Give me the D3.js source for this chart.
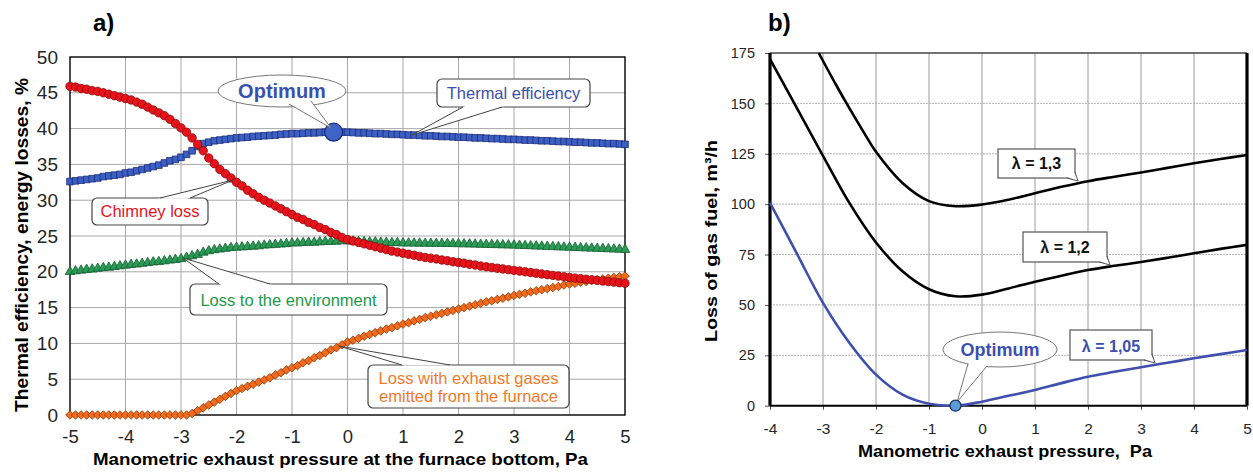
<!DOCTYPE html>
<html>
<head>
<meta charset="utf-8">
<script src="https://cdn.jsdelivr.net/npm/d3@7"></script>
<style>
  body { margin: 0; background: #fff; }
  svg { display: block; font-family: "Liberation Sans", Arial, sans-serif; }
  .tick text { fill: #262626; }
  .axis path.domain { display: none; }
</style>
</head>
<body>
<div id="chart"></div>
<script>
// ---------- chart a) : pressure at the furnace bottom, Pa (step 0.1) ----------
const pressureA = d3.range(-50, 51).map(i => i / 10);

const thermalEff = [
    32.6, 32.7, 32.8, 32.9, 33.0, 33.1, 33.3, 33.4, 33.5, 33.6,
    33.8, 33.9, 34.1, 34.3, 34.5, 34.7, 34.9, 35.2, 35.5, 35.7,
    36.0, 36.4, 36.9, 37.5, 37.9, 38.1, 38.3, 38.4, 38.5, 38.6,
    38.7, 38.75, 38.8, 38.9, 38.95, 39.0, 39.05, 39.1, 39.2, 39.25,
    39.3, 39.3, 39.35, 39.4, 39.4, 39.45, 39.5, 39.5, 39.5, 39.5,
    39.5, 39.45, 39.4, 39.4, 39.35, 39.3, 39.3, 39.25, 39.2, 39.2,
    39.15, 39.1, 39.1, 39.05, 39.0, 39.0, 38.95, 38.9, 38.9, 38.85,
    38.8, 38.8, 38.75, 38.7, 38.7, 38.65, 38.6, 38.6, 38.55, 38.5,
    38.5, 38.45, 38.4, 38.4, 38.35, 38.3, 38.3, 38.25, 38.2, 38.2,
    38.15, 38.1, 38.1, 38.05, 38.0, 38.0, 37.95, 37.9, 37.9, 37.85, 37.8
];

const chimneyLoss = [
    45.9, 45.8, 45.6, 45.5, 45.3, 45.2, 45.0, 44.8, 44.6, 44.4,
    44.2, 44.0, 43.7, 43.4, 43.0, 42.6, 42.2, 41.8, 41.3, 40.7,
    40.1, 39.5, 38.7, 37.8, 36.9, 35.9, 35.1, 34.3, 33.7, 33.1,
    32.5, 32.0, 31.4, 30.9, 30.4, 30.0, 29.6, 29.2, 28.8, 28.4,
    28.0, 27.6, 27.3, 26.9, 26.6, 26.2, 25.9, 25.5, 25.2, 24.8,
    24.5, 24.3, 24.1, 23.9, 23.7, 23.5, 23.3, 23.1, 22.9, 22.75,
    22.6, 22.45, 22.3, 22.15, 22.0, 21.9, 21.8, 21.65, 21.55, 21.4,
    21.3, 21.2, 21.05, 20.95, 20.8, 20.7, 20.6, 20.5, 20.4, 20.3,
    20.2, 20.1, 20.0, 19.9, 19.8, 19.7, 19.6, 19.5, 19.4, 19.3,
    19.2, 19.12, 19.04, 18.96, 18.88, 18.8, 18.72, 18.64, 18.56, 18.48, 18.4
];

const envLoss = [
    20.0, 20.1, 20.2, 20.3, 20.35, 20.45, 20.55, 20.6, 20.7, 20.8,
    20.9, 21.0, 21.05, 21.15, 21.25, 21.35, 21.4, 21.5, 21.6, 21.7,
    21.8, 22.0, 22.2, 22.4, 22.7, 22.9, 23.05, 23.15, 23.25, 23.35,
    23.4, 23.45, 23.5, 23.55, 23.6, 23.7, 23.75, 23.8, 23.85, 23.9,
    24.0, 24.0, 24.05, 24.1, 24.1, 24.15, 24.2, 24.2, 24.25, 24.3,
    24.3, 24.25, 24.2, 24.2, 24.15, 24.15, 24.1, 24.1, 24.05, 24.05,
    24.0, 23.99, 23.98, 23.97, 23.96, 23.95, 23.94, 23.93, 23.92, 23.91,
    23.9, 23.88, 23.86, 23.84, 23.82, 23.8, 23.78, 23.76, 23.74, 23.72,
    23.7, 23.67, 23.64, 23.61, 23.58, 23.55, 23.52, 23.49, 23.46, 23.43,
    23.4, 23.37, 23.34, 23.31, 23.28, 23.25, 23.22, 23.19, 23.16, 23.13, 23.1
];

const exhaustLoss = [
    0, 0, 0, 0, 0, 0, 0, 0, 0, 0,
    0, 0, 0, 0, 0, 0, 0, 0, 0, 0,
    0, 0, 0.2, 0.6, 1.0, 1.4, 1.8, 2.2, 2.6, 3.0,
    3.4, 3.7, 4.0, 4.3, 4.6, 4.9, 5.2, 5.6, 5.9, 6.3,
    6.6, 6.9, 7.3, 7.6, 8.0, 8.3, 8.7, 9.1, 9.4, 9.8,
    10.2, 10.45, 10.7, 11.0, 11.25, 11.5, 11.75, 12.0, 12.2, 12.45,
    12.7, 12.9, 13.15, 13.35, 13.6, 13.8, 14.0, 14.2, 14.4, 14.6,
    14.8, 15.0, 15.2, 15.4, 15.6, 15.8, 15.95, 16.15, 16.3, 16.5,
    16.7, 16.85, 17.0, 17.2, 17.35, 17.5, 17.65, 17.8, 17.95, 18.15,
    18.3, 18.4, 18.55, 18.65, 18.8, 18.9, 19.0, 19.1, 19.2, 19.3, 19.4
];

const optimumA = [-0.25, 39.5];
const ticksXA = [-5, -4, -3, -2, -1, 0, 1, 2, 3, 4, 5];
const ticksYA = [0, 5, 10, 15, 20, 25, 30, 35, 40, 45, 50];

// ---------- chart b) : loss of gas fuel, m3/h ----------
const pressureB = [-4, -3.5, -3, -2.5, -2, -1.5, -1, -0.5, 0, 0.5, 1, 1.5, 2, 2.5, 3, 3.5, 4, 4.5, 5];
const fuelLambda12 = [172, 148, 124, 100.5, 81, 66.7, 57.8, 54.3, 55.1, 58.2, 61.5, 64.5, 67.3, 69.4, 71.3, 73.4, 75.6, 77.8, 79.8];
const fuelLambda105 = [100.7, 75.8, 51, 31.1, 15.4, 5.5, 1.0, 0, 2.0, 4.9, 7.8, 11.2, 14.4, 16.8, 19.1, 21.3, 23.5, 25.6, 27.6];
const pressureB13 = [-3.08, -2.75, -2.5, -2.25, -2, -1.5, -1, -0.5, 0, 0.5, 1, 1.5, 2, 2.5, 3, 3.5, 4, 4.5, 5];
const fuelLambda13 = [175, 159, 147.5, 136.5, 126, 110.5, 101.5, 99, 99.8, 102.2, 105.4, 108.6, 111.4, 113.6, 115.7, 118, 120.3, 122.4, 124.4];
const optimumB = [-0.5, 0];
const ticksXB = [-4, -3, -2, -1, 0, 1, 2, 3, 4, 5];
const ticksYB = [0, 25, 50, 75, 100, 125, 150, 175];

const svg = d3.select("#chart").append("svg")
    .attr("width", 1253)
    .attr("height", 472);

const plainNum = d => String(d);

// draws a box or ellipse with a wedge-shaped pointer
function callout(g, shape, tail, stroke) {
    let dx = tail[1][0] - (tail[0][0] + tail[2][0]) / 2;
    let dy = tail[1][1] - (tail[0][1] + tail[2][1]) / 2;
    let len = Math.sqrt(dx * dx + dy * dy);
    let inset = p => [p[0] - dx / len * 2.5, p[1] - dy / len * 2.5];

    if (shape.cx !== undefined) {
        g.append("ellipse")
            .attr("cx", shape.cx).attr("cy", shape.cy)
            .attr("rx", shape.rx).attr("ry", shape.ry)
            .attr("fill", "#fff").attr("stroke", stroke).attr("stroke-width", 1);
    } else {
        g.append("rect")
            .attr("x", shape.x).attr("y", shape.y)
            .attr("width", shape.w).attr("height", shape.h)
            .attr("rx", shape.r || 0)
            .attr("fill", "#fff").attr("stroke", stroke).attr("stroke-width", 1.2);
    }
    g.append("path")
        .attr("d", "M" + inset(tail[0]) + "L" + tail[1] + "L" + inset(tail[2]) + "Z")
        .attr("fill", "#fff");
    g.append("path")
        .attr("d", "M" + tail[0] + "L" + tail[1] + "L" + tail[2])
        .attr("fill", "none").attr("stroke", stroke).attr("stroke-width", 1);
}

// ================= chart a) =================
const xA = d3.scaleLinear().domain([-5, 5]).range([70, 625]);
const yA = d3.scaleLinear().domain([0, 50]).range([415, 57]);

const ga = svg.append("g");

ga.append("g").selectAll("line")
    .data(ticksXA.slice(1, -1))
    .join("line")
    .attr("x1", d => xA(d)).attr("x2", d => xA(d))
    .attr("y1", yA(0)).attr("y2", yA(50))
    .attr("stroke", "#a8a8a8").attr("stroke-width", 1);

ga.append("g").selectAll("line")
    .data(ticksYA.slice(1, -1))
    .join("line")
    .attr("x1", xA(-5)).attr("x2", xA(5))
    .attr("y1", d => yA(d)).attr("y2", d => yA(d))
    .attr("stroke", "#a8a8a8").attr("stroke-width", 1);

ga.append("g")
    .attr("class", "axis")
    .attr("transform", `translate(0, ${yA(0)})`)
    .call(d3.axisBottom(xA).tickValues(ticksXA).tickFormat(plainNum).tickSize(0).tickPadding(15))
    .selectAll("text").attr("font-size", 18.5).attr("font-family", "Liberation Sans, Arial, sans-serif");

ga.append("g")
    .attr("class", "axis")
    .attr("transform", `translate(${xA(-5)}, 0)`)
    .call(d3.axisLeft(yA).tickValues(ticksYA).tickFormat(plainNum).tickSize(0).tickPadding(12))
    .selectAll("text").attr("font-size", 19).attr("font-family", "Liberation Sans, Arial, sans-serif");

ga.append("rect")
    .attr("x", xA(-5)).attr("y", yA(50))
    .attr("width", xA(5) - xA(-5)).attr("height", yA(0) - yA(50))
    .attr("fill", "none").attr("stroke", "#000").attr("stroke-width", 1.4);

function drawSeries(values, symbolD, fill, stroke) {
    ga.append("path")
        .datum(values)
        .attr("d", d3.line().x((d, i) => xA(pressureA[i])).y(d => yA(d)))
        .attr("fill", "none").attr("stroke", stroke).attr("stroke-width", 1);
    ga.append("g").selectAll("path")
        .data(values)
        .join("path")
        .attr("transform", (d, i) => `translate(${xA(pressureA[i])}, ${yA(d)})`)
        .attr("d", symbolD)
        .attr("fill", fill).attr("stroke", stroke).attr("stroke-width", 0.8);
}

const diamond = "M0,-4.3L4.3,0L0,4.3L-4.3,0Z";
drawSeries(envLoss, d3.symbol(d3.symbolTriangle, 40)(), "#2a9a55", "#175f33");
drawSeries(exhaustLoss, diamond, "#f26b1d", "#8a3a08");
drawSeries(thermalEff, d3.symbol(d3.symbolSquare, 44)(), "#3c5fc4", "#1d2c78");
drawSeries(chimneyLoss, d3.symbol(d3.symbolCircle, 56)(), "#e8121b", "#8b0a0a");

ga.append("circle")
    .attr("cx", xA(optimumA[0])).attr("cy", yA(optimumA[1]))
    .attr("r", 9)
    .attr("fill", "#3f63c8").attr("stroke", "#1d2c78").attr("stroke-width", 1.2);

// callouts a)
callout(ga, { cx: 282, cy: 91, rx: 64, ry: 16 }, [[289, 104], [331, 128], [311, 101]], "#777");
ga.append("text").attr("x", 282).attr("y", 97.5).attr("text-anchor", "middle")
    .attr("font-size", 20).attr("font-weight", "bold").attr("fill", "#3b4fb0").text("Optimum");

callout(ga, { x: 437, y: 79, w: 153, h: 28, r: 5 }, [[463, 107], [412, 135], [502, 107]], "#444");
ga.append("text").attr("x", 513.5).attr("y", 99).attr("text-anchor", "middle")
    .attr("font-size", 16.5).attr("fill", "#3b4fb0").text("Thermal efficiency");

callout(ga, { x: 92, y: 198, w: 116, h: 27, r: 5 }, [[160, 198], [233, 180], [190, 198]], "#444");
ga.append("text").attr("x", 150).attr("y", 217).attr("text-anchor", "middle")
    .attr("font-size", 16.5).attr("fill", "#e8121b").text("Chimney loss");

callout(ga, { x: 190, y: 284, w: 197, h: 31, r: 5 }, [[219, 284], [183, 258], [270, 284]], "#444");
ga.append("text").attr("x", 288.5).attr("y", 305.5).attr("text-anchor", "middle")
    .attr("font-size", 16.5).attr("fill", "#1e9a48").text("Loss to the environment");

callout(ga, { x: 368, y: 365, w: 201, h: 43, r: 5 }, [[402, 365], [339, 346], [450, 365]], "#444");
ga.append("text").attr("x", 468.5).attr("y", 383.5).attr("text-anchor", "middle")
    .attr("font-size", 16.5).attr("fill", "#f07a2a").text("Loss with exhaust gases");
ga.append("text").attr("x", 468.5).attr("y", 401.5).attr("text-anchor", "middle")
    .attr("font-size", 16.5).attr("fill", "#f07a2a").text("emitted from the furnace");

ga.append("text").attr("x", 93).attr("y", 31)
    .attr("font-size", 24).attr("font-weight", "bold").text("a)");

ga.append("text").attr("x", 340.5).attr("y", 465).attr("text-anchor", "middle")
    .attr("font-size", 17).attr("font-weight", "bold")
    .attr("textLength", 495).attr("lengthAdjust", "spacingAndGlyphs")
    .text("Manometric exhaust pressure at the furnace bottom, Pa");

ga.append("text")
    .attr("transform", "translate(28, 245) rotate(-90)")
    .attr("text-anchor", "middle")
    .attr("font-size", 18).attr("font-weight", "bold")
    .attr("textLength", 334).attr("lengthAdjust", "spacingAndGlyphs")
    .text("Thermal efficiency, energy losses, %");

// ================= chart b) =================
const xB = d3.scaleLinear().domain([-4, 5]).range([770, 1247]);
const yB = d3.scaleLinear().domain([0, 175]).range([405.7, 53]);

const gb = svg.append("g");

gb.append("g").selectAll("line")
    .data(ticksXB.slice(1, -1))
    .join("line")
    .attr("x1", d => xB(d)).attr("x2", d => xB(d))
    .attr("y1", yB(0)).attr("y2", yB(175))
    .attr("stroke", "#9a9a9a").attr("stroke-width", 1);

gb.append("g").selectAll("line")
    .data(ticksYB.slice(1, -1))
    .join("line")
    .attr("x1", xB(-4)).attr("x2", xB(5))
    .attr("y1", d => yB(d)).attr("y2", d => yB(d))
    .attr("stroke", "#b4b4b4").attr("stroke-width", 1).attr("stroke-dasharray", "2,1");

const axB = gb.append("g")
    .attr("class", "axis")
    .attr("transform", `translate(0, ${yB(0)})`)
    .call(d3.axisBottom(xB).tickValues(ticksXB).tickFormat(plainNum).tickSize(4).tickPadding(13));
axB.selectAll("text").attr("font-size", 15.5).attr("font-family", "Liberation Sans, Arial, sans-serif");
axB.selectAll("line").attr("stroke", "#555");

const ayB = gb.append("g")
    .attr("class", "axis")
    .attr("transform", `translate(${xB(-4)}, 0)`)
    .call(d3.axisLeft(yB).tickValues(ticksYB).tickFormat(plainNum).tickSize(5).tickPadding(10));
ayB.selectAll("text").attr("font-size", 14.5).attr("font-family", "Liberation Sans, Arial, sans-serif");
ayB.selectAll("line").attr("stroke", "#555");

gb.append("line").attr("x1", xB(-4)).attr("x2", xB(5)).attr("y1", yB(175)).attr("y2", yB(175))
    .attr("stroke", "#444").attr("stroke-width", 1.6);
gb.append("line").attr("x1", xB(-4)).attr("x2", xB(5)).attr("y1", yB(0)).attr("y2", yB(0))
    .attr("stroke", "#000").attr("stroke-width", 2);
gb.append("line").attr("x1", xB(-4)).attr("x2", xB(-4)).attr("y1", yB(175)).attr("y2", yB(0))
    .attr("stroke", "#000").attr("stroke-width", 3.2);
gb.append("line").attr("x1", xB(5)).attr("x2", xB(5)).attr("y1", yB(175)).attr("y2", yB(0))
    .attr("stroke", "#000").attr("stroke-width", 3.2);

const lineB = xs => d3.line()
    .x((d, i) => xB(xs[i]))
    .y(d => yB(d))
    .curve(d3.curveCatmullRom.alpha(0.5));

gb.append("path").datum(fuelLambda13).attr("d", lineB(pressureB13))
    .attr("fill", "none").attr("stroke", "#000").attr("stroke-width", 2.6);
gb.append("path").datum(fuelLambda12).attr("d", lineB(pressureB))
    .attr("fill", "none").attr("stroke", "#000").attr("stroke-width", 2.6);
gb.append("path").datum(fuelLambda105).attr("d", lineB(pressureB))
    .attr("fill", "none").attr("stroke", "#3f4fae").attr("stroke-width", 2.6);

// callouts b)
callout(gb, { x: 998, y: 149, w: 77, h: 29 }, [[1067, 178], [1078, 181], [1075, 172]], "#555");
gb.append("text").attr("x", 1036.5).attr("y", 168.5).attr("text-anchor", "middle")
    .attr("font-size", 16).attr("font-weight", "bold").attr("fill", "#111").text("λ = 1,3");

callout(gb, { x: 1023, y: 232, w: 84, h: 30 }, [[1099, 262], [1110, 265], [1107, 256]], "#555");
gb.append("text").attr("x", 1065).attr("y", 252.5).attr("text-anchor", "middle")
    .attr("font-size", 16).attr("font-weight", "bold").attr("fill", "#111").text("λ = 1,2");

callout(gb, { x: 1070, y: 330, w: 82, h: 30 }, [[1144, 360], [1155, 363], [1152, 354]], "#555");
gb.append("text").attr("x", 1111).attr("y", 351.5).attr("text-anchor", "middle")
    .attr("font-size", 16).attr("font-weight", "bold").attr("fill", "#3b4fb0").text("λ = 1,05");

callout(gb, { cx: 1000, cy: 349.5, rx: 57, ry: 17.5 }, [[968, 364], [957, 402], [987, 366]], "#777");
gb.append("text").attr("x", 1000).attr("y", 356).attr("text-anchor", "middle")
    .attr("font-size", 18).attr("font-weight", "bold").attr("fill", "#3b4fb0").text("Optimum");

gb.append("circle")
    .attr("cx", xB(optimumB[0])).attr("cy", yB(optimumB[1]))
    .attr("r", 5.5)
    .attr("fill", "#5b9bd5").attr("stroke", "#1f2f5a").attr("stroke-width", 1.3);

gb.append("text").attr("x", 768).attr("y", 31)
    .attr("font-size", 24).attr("font-weight", "bold").text("b)");

gb.append("text").attr("x", 1005).attr("y", 457).attr("text-anchor", "middle")
    .attr("font-size", 16.5).attr("font-weight", "bold")
    .attr("textLength", 294).attr("lengthAdjust", "spacingAndGlyphs")
    .attr("xml:space", "preserve")
    .text("Manometric exhaust pressure,  Pa");

gb.append("text")
    .attr("transform", "translate(717, 241) rotate(-90)")
    .attr("text-anchor", "middle")
    .attr("font-size", 17).attr("font-weight", "bold")
    .attr("textLength", 202).attr("lengthAdjust", "spacingAndGlyphs")
    .text("Loss of gas fuel, m³/h");
</script>
</body>
</html>
